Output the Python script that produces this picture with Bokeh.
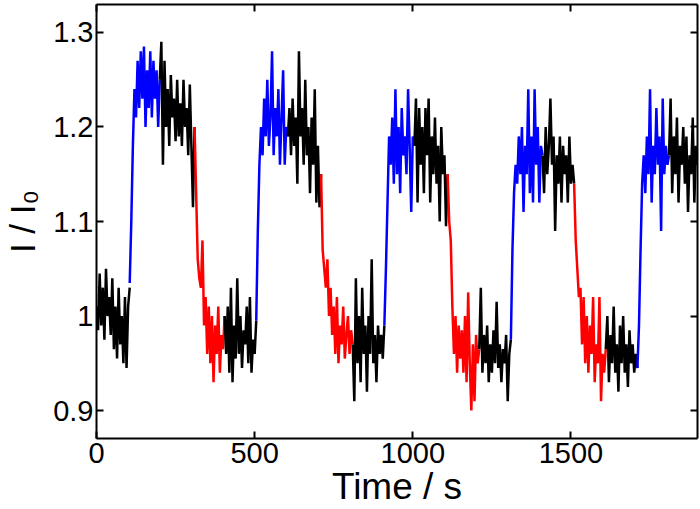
from bokeh.plotting import figure
from bokeh.models import Range1d, LinearAxis, FixedTicker, CustomJSTickFormatter
from bokeh.embed import file_html
from bokeh.resources import INLINE

# ---------------- data ----------------
sample_step_s = 5
x_ticks = [0, 500, 1000, 1500]
y_ticks = [0.9, 1.0, 1.1, 1.2, 1.3]

# start time (s) of each coloured segment, and its colour
seg_start_s = [0, 105, 200, 310, 405, 505, 605, 710, 810, 910, 1005,
               1110, 1210, 1310, 1410, 1510, 1610, 1710, 1810]
seg_color = ["black", "blue", "black", "red", "black",
             "blue", "black", "red", "black",
             "blue", "black", "red", "black",
             "blue", "black", "red", "black",
             "blue", "black"]

# I / I0 samples of each segment (every 5 s, both ends included)
s01 = [1.010, 0.985, 1.045, 0.990, 1.030, 0.975, 1.050, 1.000, 1.020, 0.980, 1.040,
       0.965, 1.010, 0.955, 1.030, 0.970, 1.000, 0.950, 1.020, 0.945, 1.010, 1.030]
s02 = [1.035, 1.100, 1.180, 1.240, 1.210, 1.270, 1.220, 1.280, 1.230, 1.285,
       1.200, 1.260, 1.220, 1.280, 1.210, 1.270, 1.230, 1.260, 1.200, 1.250]
s03 = [1.250, 1.290, 1.160, 1.270, 1.200, 1.240, 1.180, 1.255, 1.210, 1.230, 1.185,
       1.250, 1.190, 1.225, 1.180, 1.250, 1.200, 1.220, 1.170, 1.245, 1.180, 1.115, 1.200]
s04 = [1.200, 1.130, 1.060, 1.040, 1.030, 1.080, 0.990, 1.020, 0.960, 1.010,
       0.950, 1.000, 0.930, 0.990, 0.960, 1.010, 0.940, 0.980, 0.965, 1.000]
s05 = [1.000, 0.960, 1.010, 0.940, 1.030, 0.930, 0.990, 0.955, 1.040, 0.960, 1.000,
       0.945, 0.985, 0.970, 1.010, 0.950, 1.020, 0.940, 0.975, 0.960, 0.995]
s06 = [0.995, 1.090, 1.160, 1.200, 1.170, 1.230, 1.190, 1.250, 1.180, 1.210, 1.280,
       1.170, 1.220, 1.190, 1.240, 1.160, 1.210, 1.260, 1.160, 1.200, 1.190]
s07 = [1.190, 1.220, 1.170, 1.230, 1.180, 1.210, 1.140, 1.280, 1.190, 1.220, 1.160,
       1.250, 1.170, 1.200, 1.130, 1.210, 1.160, 1.240, 1.120, 1.180, 1.115, 1.150]
s08 = [1.150, 1.070, 1.050, 1.030, 1.060, 1.000, 1.030, 0.980, 1.010, 0.960, 1.020,
       0.950, 0.990, 0.970, 1.010, 0.955, 0.980, 1.000, 0.960, 0.985, 0.970]
s09 = [0.970, 0.910, 1.040, 0.950, 1.000, 0.930, 1.030, 0.960, 0.990, 0.920, 1.000,
       0.960, 1.060, 0.950, 0.980, 0.930, 0.990, 0.960, 0.980, 0.955, 0.990]
s10 = [0.990, 1.050, 1.120, 1.190, 1.160, 1.210, 1.140, 1.240, 1.150, 1.200,
       1.130, 1.220, 1.170, 1.190, 1.150, 1.240, 1.180, 1.110, 1.190, 1.180]
s11 = [1.180, 1.230, 1.120, 1.220, 1.160, 1.200, 1.130, 1.220, 1.170, 1.230, 1.120,
       1.190, 1.150, 1.210, 1.140, 1.180, 1.100, 1.200, 1.150, 1.170, 1.095, 1.150]
s12 = [1.150, 1.100, 1.080, 1.010, 0.960, 1.000, 0.940, 0.990, 0.955, 0.985, 0.940,
       1.000, 0.930, 1.025, 0.950, 0.900, 0.970, 0.910, 0.980, 0.950, 0.965]
s13 = [0.965, 1.030, 0.940, 0.980, 0.950, 0.990, 0.930, 0.970, 0.940, 0.985, 0.950,
       1.015, 0.945, 0.970, 0.930, 0.965, 0.950, 0.980, 0.910, 0.960, 0.975]
s14 = [0.975, 1.070, 1.130, 1.160, 1.140, 1.190, 1.150, 1.200, 1.110, 1.180, 1.150,
       1.240, 1.130, 1.190, 1.120, 1.240, 1.160, 1.200, 1.120, 1.180, 1.170]
s15 = [1.170, 1.130, 1.200, 1.150, 1.180, 1.230, 1.160, 1.190, 1.090, 1.170, 1.140,
       1.190, 1.120, 1.180, 1.150, 1.170, 1.120, 1.190, 1.140, 1.160, 1.140]
s16 = [1.140, 1.080, 1.050, 1.020, 1.030, 0.970, 1.020, 0.950, 1.000, 0.940, 0.990,
       0.960, 1.020, 0.930, 0.970, 0.950, 1.020, 0.910, 0.960, 0.940, 0.965]
s17 = [0.965, 1.000, 0.930, 0.980, 0.950, 1.010, 0.940, 0.970, 0.920, 0.990, 0.950,
       1.000, 0.940, 0.970, 0.925, 0.985, 0.950, 0.970, 0.940, 0.960, 0.945]
s18 = [0.945, 0.990, 1.070, 1.140, 1.170, 1.130, 1.190, 1.150, 1.240, 1.120, 1.180,
       1.150, 1.220, 1.160, 1.190, 1.090, 1.230, 1.150, 1.180, 1.160, 1.170]
s19 = [1.170, 1.230, 1.130, 1.190, 1.150, 1.210, 1.120, 1.180, 1.160, 1.200,
       1.140, 1.190, 1.110, 1.170, 1.150, 1.210, 1.120, 1.180, 1.160]

segments = [s01, s02, s03, s04, s05, s06, s07, s08, s09, s10,
            s11, s12, s13, s14, s15, s16, s17, s18, s19]

x_label = "Time / s"
y_label = "I / I\u2080"

# ---------------- figure ----------------
FONT = "Liberation Sans"

p = figure(width=700, height=509, output_backend="svg", toolbar_location=None,
           x_range=Range1d(0, 1900), y_range=Range1d(0.87045, 1.32955),
           min_border_left=96, min_border_right=3, min_border_top=4,
           min_border_bottom=70)
p.grid.visible = False
p.outline_line_color = None
p.background_fill_color = "white"
p.border_fill_color = "white"

for start, col, vals in zip(seg_start_s, seg_color, segments):
    ts = [start + sample_step_s * k for k in range(len(vals))]
    p.line(ts, vals, line_color=col, line_width=2.5)

yfmt = CustomJSTickFormatter(code="return String(Math.round(tick*10)/10);")
blank = CustomJSTickFormatter(code="return '';")


def style(ax, labels=True):
    ax.axis_line_color = "black"
    ax.axis_line_width = 2
    ax.major_tick_line_color = "black"
    ax.major_tick_line_width = 2
    ax.major_tick_in = 7
    ax.major_tick_out = 0
    ax.minor_tick_in = 0
    ax.minor_tick_out = 0
    if labels:
        ax.major_label_text_font = FONT
        ax.major_label_text_font_size = "29px"
        ax.major_label_text_color = "black"
        ax.major_label_standoff = 4
        ax.axis_label_text_font = FONT
        ax.axis_label_text_font_style = "normal"
        ax.axis_label_text_color = "black"
    else:
        ax.formatter = blank
        ax.major_label_text_font_size = "0px"
        ax.major_label_standoff = 0


xa = p.xaxis[0]
xa.ticker = FixedTicker(ticks=x_ticks)
style(xa)
xa.axis_label = x_label
xa.axis_label_text_font_size = "37px"
xa.axis_label_standoff = 0

ya = p.yaxis[0]
ya.ticker = FixedTicker(ticks=y_ticks)
ya.formatter = yfmt
style(ya)
ya.major_label_standoff = 3
ya.axis_label = y_label
ya.axis_label_text_font_size = "35px"
ya.axis_label_standoff = 8

top = LinearAxis(ticker=FixedTicker(ticks=x_ticks))
style(top, labels=False)
p.add_layout(top, "above")
right = LinearAxis(ticker=FixedTicker(ticks=y_ticks))
style(right, labels=False)
p.add_layout(right, "right")

open("out.html", "w").write(file_html(p, INLINE))
